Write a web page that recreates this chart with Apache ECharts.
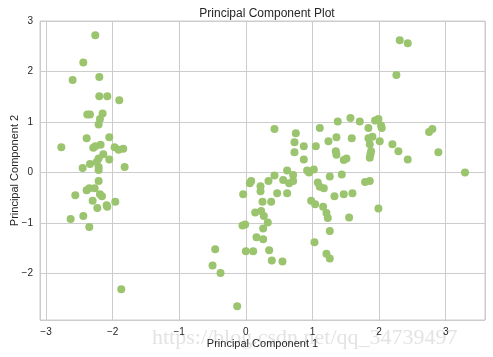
<!DOCTYPE html>
<html>
<head>
<meta charset="utf-8">
<script src="https://cdn.jsdelivr.net/npm/echarts@6/dist/echarts.min.js"></script>
<style>html,body{margin:0;padding:0;background:#fff}#c{width:493px;height:357px}</style>
</head>
<body>
<div id="c"></div>
<script>
// Principal component scores: [PC1, PC2]
var leftCluster = [
  [-2.26,2.72],[-2.44,2.18],[-2.60,1.83],[-2.20,1.89],[-2.20,1.51],[-2.08,1.51],[-1.90,1.43],
  [-2.38,1.15],[-2.34,1.15],[-2.15,1.17],[-2.19,1.06],[-2.21,0.95],[-2.39,0.68],[-2.05,0.70],
  [-2.77,0.50],[-2.29,0.49],[-2.26,0.52],[-2.18,0.55],[-1.97,0.50],[-1.91,0.45],[-1.84,0.47],
  [-2.14,0.36],[-2.21,0.28],[-2.24,0.21],[-2.05,0.26],[-2.34,0.17],[-2.45,0.09],[-2.21,0.11],
  [-1.82,0.11],[-2.21,0.05],[-2.21,-0.17],[-2.39,-0.35],[-2.35,-0.31],[-2.27,-0.31],[-2.56,-0.45],
  [-2.19,-0.43],[-2.16,-0.47],[-2.30,-0.56],[-1.96,-0.58],[-2.23,-0.70],[-2.09,-0.65],[-2.08,-0.68],
  [-2.44,-0.86],[-2.63,-0.92],[-2.35,-1.08],[-1.87,-2.31]
];
var rightCluster = [
  [0.43,0.86],[0.75,0.78],[0.73,0.60],[0.87,0.52],[0.73,0.40],[0.87,0.26],[1.11,0.88],[1.38,1.01],
  [1.57,1.08],[1.71,1.01],[1.84,0.88],[1.94,1.03],[1.99,1.06],[2.03,0.93],[2.04,0.88],[1.05,0.52],
  [1.24,0.62],[1.36,0.70],[1.59,0.68],[1.84,0.68],[1.90,0.71],[1.86,0.56],[2.01,0.62],[1.35,0.42],
  [1.36,0.35],[1.47,0.25],[1.51,0.28],[1.88,0.42],[1.87,0.36],[1.86,0.29],[2.20,0.56],[2.29,0.42],
  [2.43,0.26],[2.31,2.62],[2.43,2.56],[2.26,1.93],[2.75,0.80],[2.80,0.86],[2.89,0.40],[3.29,0.00],
  [0.62,0.04],[0.71,-0.05],[0.43,-0.06],[0.08,-0.17],[0.06,-0.21],[0.34,-0.17],[0.56,-0.15],
  [0.65,-0.21],[0.71,-0.17],[0.22,-0.27],[0.22,-0.37],[-0.04,-0.43],[0.47,-0.41],[0.62,-0.41],
  [0.25,-0.58],[0.38,-0.58],[0.14,-0.79],[0.23,-0.76],[0.27,-0.86],[0.92,0.04],[0.95,0.00],
  [1.02,0.06],[1.08,-0.20],[1.11,-0.28],[1.17,-0.31],[1.26,-0.08],[1.44,-0.04],[1.33,-0.47],
  [1.47,-0.43],[1.60,-0.41],[0.98,-0.56],[1.04,-0.63],[1.16,-0.68],[1.21,-0.80],[1.23,-0.90],
  [1.55,-0.89],[1.79,-0.19],[1.86,-0.17],[1.99,-0.71],[0.33,-0.99],[-0.05,-1.05],[-0.01,-1.03],
  [0.26,-1.11],[-0.46,-1.52],[0.16,-1.28],[0.26,-1.32],[0.00,-1.56],[0.11,-1.56],[0.35,-1.54],
  [0.39,-1.74],[0.55,-1.76],[-0.50,-1.84],[-0.38,-1.99],[-0.13,-2.65],[1.26,-1.16],[1.03,-1.38],
  [1.21,-1.61],[1.26,-1.70]
];
var titleText = 'Principal Component Plot';
var xName = 'Principal Component 1';
var yName = 'Principal Component 2';
var watermark = 'https://blog.csdn.net/qq_34739497';

var allPoints = leftCluster.concat(rightCluster);
function fmt(v){ return (v < 0 ? '\u2212' : '') + Math.abs(v); }
var FONT = '"Liberation Sans", Arial, sans-serif';
var chart = echarts.init(document.getElementById('c'), null, {renderer:'canvas'});
chart.setOption({
  animation: false,
  backgroundColor: '#fff',
  title: {
    text: titleText, left: 262, top: 3, textAlign: 'center',
    textStyle: {fontFamily: FONT, fontSize: 12, fontWeight: 'normal', color: '#262626'}
  },
  grid: {left: 40, right: 8, top: 21, bottom: 37, show: true, borderColor: '#cccccc', borderWidth: 1, backgroundColor: '#fff', containLabel: false, outerBoundsMode: 'none'},
  xAxis: {
    type: 'value', min: -3.09, max: 3.59, minInterval: 1, maxInterval: 1,
    name: xName, nameLocation: 'middle', nameGap: 18, nameMoveOverlap: false,
    nameTextStyle: {fontFamily: FONT, fontSize: 11, color: '#262626'},
    axisLine: {show: false}, axisTick: {show: false},
    axisLabel: {showMinLabel: false, showMaxLabel: false, formatter: fmt, fontFamily: FONT, fontSize: 10, color: '#262626', margin: 7},
    splitLine: {show: true, lineStyle: {color: '#cccccc', width: 1}}
  },
  yAxis: {
    type: 'value', min: -2.92, max: 3.0, minInterval: 1, maxInterval: 1,
    name: yName, nameLocation: 'middle', nameGap: 20, nameRotate: 90, nameMoveOverlap: false,
    nameTextStyle: {fontFamily: FONT, fontSize: 11, color: '#262626'},
    axisLine: {show: false}, axisTick: {show: false},
    axisLabel: {showMinLabel: false, formatter: fmt, fontFamily: FONT, fontSize: 10, color: '#262626', margin: 7},
    splitLine: {show: true, lineStyle: {color: '#cccccc', width: 1}}
  },
  graphic: [{
    type: 'text', left: 152, top: 327, z: 0,
    style: {text: watermark, font: '22px "Liberation Serif", "Times New Roman", serif', fill: 'rgba(200,200,200,0.5)'}
  }],
  series: [{
    type: 'scatter', data: allPoints, symbolSize: 8,
    itemStyle: {color: '#9bc46e', opacity: 1}
  }]
});
</script>
</body>
</html>
